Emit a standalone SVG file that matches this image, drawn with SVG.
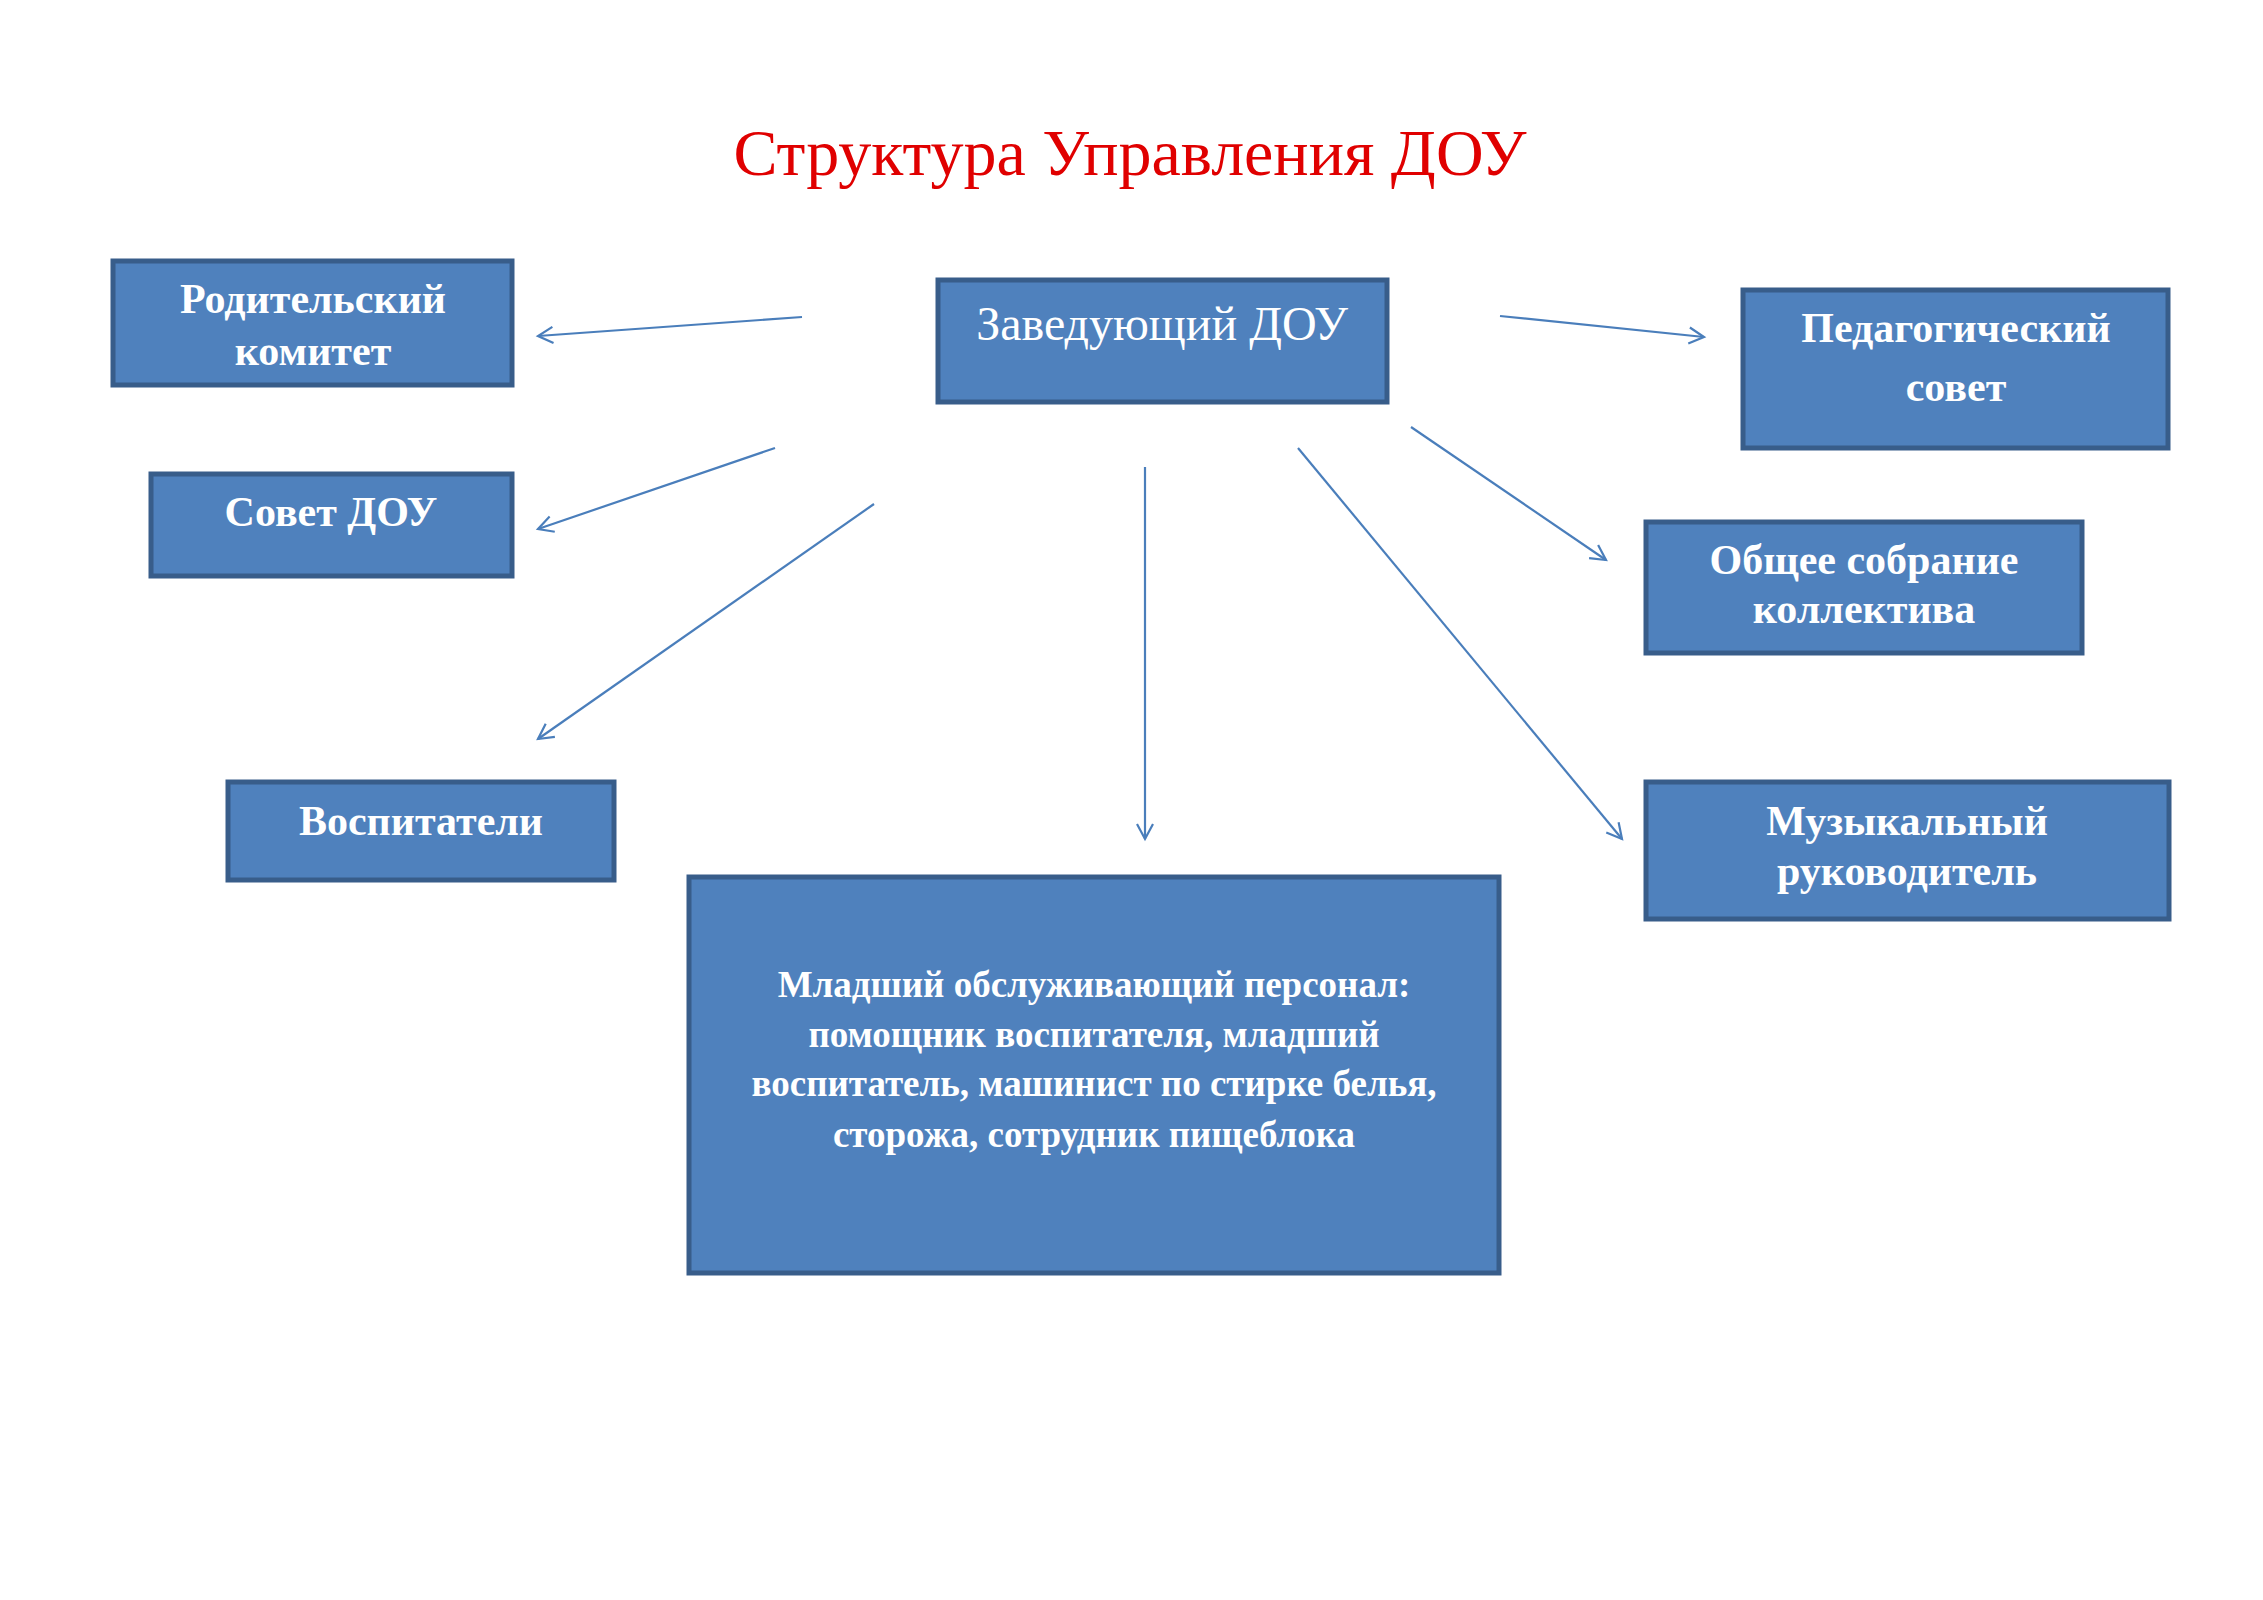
<svg xmlns="http://www.w3.org/2000/svg" width="2263" height="1600" viewBox="0 0 2263 1600">
<defs>
<style>
.box{fill:#4F81BD;stroke:#385D8A;stroke-width:5}
.lbl{font-family:"Liberation Serif","Times New Roman",serif;font-weight:bold;font-size:42px;fill:#FFFFFF;text-anchor:middle}
.lblr{font-family:"Liberation Serif","Times New Roman",serif;font-size:48px;fill:#FFFFFF;text-anchor:middle}
.small{font-family:"Liberation Serif","Times New Roman",serif;font-weight:bold;font-size:37px;fill:#FFFFFF;text-anchor:middle}
.title{font-family:"Liberation Serif","Times New Roman",serif;font-size:66px;fill:#E00000;text-anchor:middle}
.conn{stroke:#4A7EBB;stroke-width:2.2;fill:none;marker-end:url(#arr)}
</style>
<marker id="arr" markerUnits="userSpaceOnUse" markerWidth="30" markerHeight="30" refX="18" refY="10" orient="auto">
<path d="M3,2 L18,10 L3,18" fill="none" stroke="#4A7EBB" stroke-width="2.2"/>
</marker>
</defs>
<rect width="2263" height="1600" fill="#FFFFFF"/>
<text class="title" x="1130" y="175">Структура Управления ДОУ</text>

<g id="connectors">
<line class="conn" x1="802" y1="317" x2="538" y2="336"/>
<line class="conn" x1="775" y1="448" x2="538" y2="529"/>
<line class="conn" x1="874" y1="504" x2="538" y2="739"/>
<line class="conn" x1="1145" y1="467" x2="1145" y2="839"/>
<line class="conn" x1="1298" y1="448" x2="1622" y2="839"/>
<line class="conn" x1="1411" y1="427" x2="1606" y2="560"/>
<line class="conn" x1="1500" y1="316" x2="1704" y2="337"/>
</g>

<g id="zaveduyushchiy">
<rect class="box" x="938" y="280" width="449" height="122"/>
<text class="lblr" x="1162" y="340">Заведующий ДОУ</text>
</g>
<g id="roditelskiy">
<rect class="box" x="113" y="261" width="399" height="124"/>
<text class="lbl" x="313" y="313">Родительский</text>
<text class="lbl" x="313" y="365">комитет</text>
</g>
<g id="sovet">
<rect class="box" x="151" y="474" width="361" height="102"/>
<text class="lbl" x="331" y="526">Совет ДОУ</text>
</g>
<g id="vospitateli">
<rect class="box" x="228" y="782" width="386" height="98"/>
<text class="lbl" x="421" y="835">Воспитатели</text>
</g>
<g id="pedsovet">
<rect class="box" x="1743" y="290" width="425" height="158"/>
<text class="lbl" x="1956" y="342">Педагогический</text>
<text class="lbl" x="1956" y="401">совет</text>
</g>
<g id="sobranie">
<rect class="box" x="1646" y="522" width="436" height="131"/>
<text class="lbl" x="1864" y="574">Общее собрание</text>
<text class="lbl" x="1864" y="623">коллектива</text>
</g>
<g id="muzruk">
<rect class="box" x="1646" y="782" width="523" height="137"/>
<text class="lbl" x="1907" y="835">Музыкальный</text>
<text class="lbl" x="1907" y="885">руководитель</text>
</g>
<g id="personal">
<rect class="box" x="689" y="877" width="810" height="396"/>
<text class="small" x="1094" y="997">Младший обслуживающий персонал:</text>
<text class="small" x="1094" y="1047">помощник воспитателя, младший</text>
<text class="small" x="1094" y="1096">воспитатель, машинист по стирке белья,</text>
<text class="small" x="1094" y="1147">сторожа, сотрудник пищеблока</text>
</g>
</svg>
